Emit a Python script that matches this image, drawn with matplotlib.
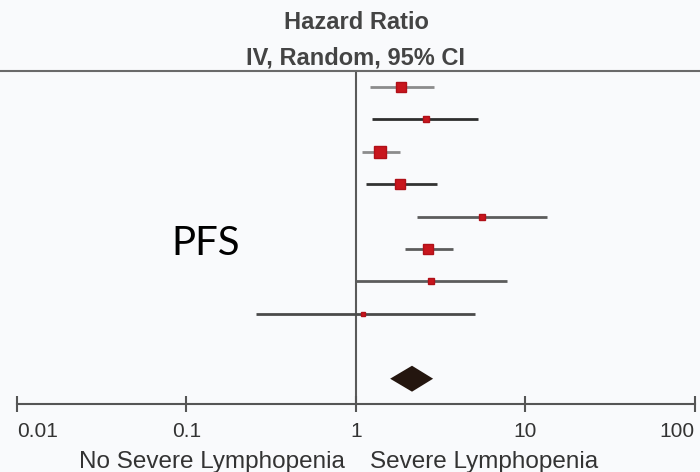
import numpy as np
import matplotlib
matplotlib.use("Agg")
import matplotlib.pyplot as plt
from matplotlib.lines import Line2D

# 연구별 HR (IV, Random, 95% CI) - 그림에서 읽은 값
hr = [1.84, 2.59, 1.39, 1.82, 5.54, 2.66, 2.77, 1.10]
ci_lo = [1.21, 1.24, 1.085, 1.15, 2.29, 1.95, 1.00, 0.257]
ci_hi = [2.88, 5.25, 1.82, 3.00, 13.4, 3.73, 7.78, 5.04]
box_size = [7.5, 4.5, 8, 6.5, 3.8, 7.5, 4.2, 3.5]      # 가중치 -> 마커 크기
ci_color = ["#8c8c8c", "#2e2e2e", "#8c8c8c", "#333333",
            "#5c5c5c", "#5c5c5c", "#5c5c5c", "#4a4a4a"]
pooled_hr, pooled_lo, pooled_hi = 2.14, 1.59, 2.85

xticks = [0.01, 0.1, 1, 10, 100]
xtick_labels = ["0.01", "0.1", "1", "10", "100"]
left_label = "No Severe Lymphopenia"
right_label = "Severe Lymphopenia"

BG = "#f9fafc"
plt.rcParams["font.family"] = ["Liberation Sans", "DejaVu Sans"]

fig = plt.figure(figsize=(7, 4.72), dpi=100, facecolor=BG)
ax = fig.add_axes([17 / 700, (472 - 404) / 472, 678 / 700, 333 / 472])
ax.set_facecolor(BG)

rows = np.arange(len(hr))
pooled_row = len(hr) + 1

ax.axvline(1, color="#5a5a5a", lw=1.5, zorder=1)

for y, m, lo, hi, s, c in zip(rows, hr, ci_lo, ci_hi, box_size, ci_color):
    ax.plot([lo, hi], [y, y], color=c, lw=2.0, solid_capstyle="butt", zorder=2)
    ax.plot(m, y, marker="s", ms=s, color="#c8161d", mec="#b01018", zorder=3)

h = 0.4
ax.fill([pooled_lo, pooled_hr, pooled_hi, pooled_hr],
        [pooled_row, pooled_row - h, pooled_row, pooled_row + h],
        color="#24160f", lw=0, zorder=3)

ax.set_xscale("log")
ax.set_xlim(0.01, 100)
ax.set_ylim(9.78, -0.49)
ax.set_yticks([])
ax.set_xticks(xticks)
ax.set_xticklabels(xtick_labels)
ax.xaxis.set_minor_locator(matplotlib.ticker.NullLocator())
ax.tick_params(axis="x", direction="inout", length=12, width=1.5, color="#555555",
               labelsize=15, labelcolor="#333333", pad=7)
tl = ax.get_xticklabels()
tl[0].set_ha("left")
tl[-1].set_ha("right")
for s in ["top", "left", "right"]:
    ax.spines[s].set_visible(False)
ax.spines["bottom"].set_color("#555555")
ax.spines["bottom"].set_linewidth(1.5)

# 헤더 아래 가로선 (그림 전체 폭)
fig.add_artist(Line2D([0, 1], [(472 - 71) / 472] * 2, transform=fig.transFigure,
                      color="#6a6a6a", lw=1.5))

ax.annotate("Hazard Ratio", xy=(1, 1), xycoords=("data", "axes fraction"),
            xytext=(0, 30), textcoords="offset points", ha="center", va="baseline",
            fontsize=17, fontweight="bold", color="#444444", annotation_clip=False)
ax.annotate("IV, Random, 95% CI", xy=(1, 1), xycoords=("data", "axes fraction"),
            xytext=(0, 5), textcoords="offset points", ha="center", va="baseline",
            fontsize=17, fontweight="bold", color="#444444", annotation_clip=False)

ax.annotate(left_label, xy=(1, 0), xycoords=("data", "axes fraction"),
            xytext=(-8, -46), textcoords="offset points", ha="right", va="baseline",
            fontsize=17.5, color="#333333", annotation_clip=False)
ax.annotate(right_label, xy=(1, 0), xycoords=("data", "axes fraction"),
            xytext=(10, -46), textcoords="offset points", ha="left", va="baseline",
            fontsize=17.5, color="#333333", annotation_clip=False)

ax.text(0.227, 0.447, "PFS", transform=ax.transAxes, ha="left", va="baseline",
        fontsize=29, family=["Lato", "DejaVu Sans"], color="black")

fig.savefig("out.png", dpi=100, facecolor=BG)
